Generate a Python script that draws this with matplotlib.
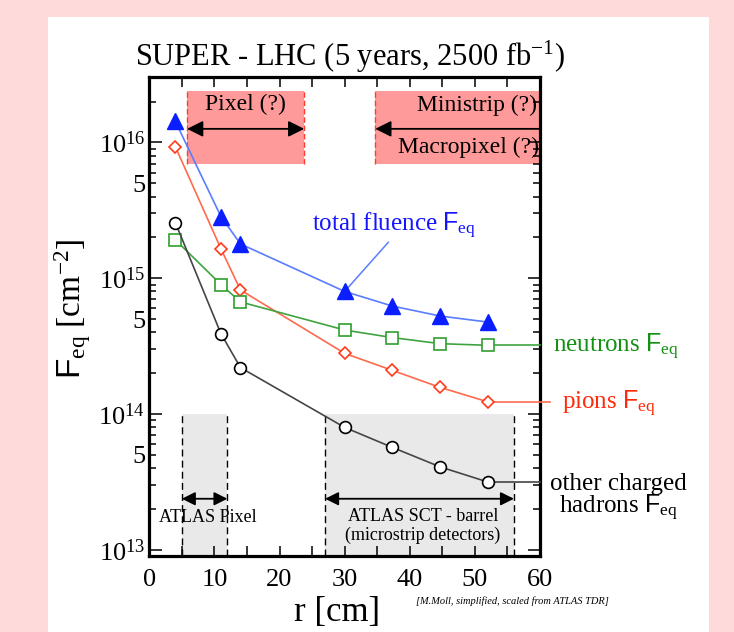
import numpy as np
import matplotlib
matplotlib.use('Agg')
import matplotlib.pyplot as plt
from matplotlib.patches import Rectangle
from matplotlib.ticker import FixedLocator, FuncFormatter, MultipleLocator

plt.rcParams['font.family'] = ['Liberation Serif', 'DejaVu Serif']
plt.rcParams['mathtext.fontset'] = 'custom'
plt.rcParams['mathtext.rm'] = 'Liberation Serif'
plt.rcParams['mathtext.sf'] = 'Liberation Sans'
plt.rcParams['mathtext.it'] = 'Liberation Serif:italic'

# radius of the layers [cm]
r = [4, 11, 14, 30, 37.3, 44.7, 52]
total = [1.43e16, 2.85e15, 1.79e15, 8.0e14, 6.25e14, 5.27e14, 4.76e14]
pions = [9.3e15, 1.65e15, 8.2e14, 2.8e14, 2.1e14, 1.57e14, 1.23e14]
neutrons = [1.92e15, 9.0e14, 6.7e14, 4.16e14, 3.66e14, 3.30e14, 3.21e14]
others = [2.57e15, 3.91e14, 2.2e14, 7.98e13, 5.69e13, 4.08e13, 3.16e13]

# detector regions
pink_pixel = (5.8, 23.8)
pink_strip = (34.7, 60)
pink_y = (6.97e15, 2.38e16)
gray_pixel = (5, 12)
gray_sct = (27, 56)
gray_top = 1e14

FEQ = r'$\mathsf{F}_{\mathrm{eq}}$'

fig = plt.figure(figsize=(7.34, 6.32), dpi=100)
fig.patch.set_facecolor('#ffdada')
fig.patches.append(Rectangle((48 / 734, 0), (709 - 48) / 734, 1 - 17 / 632,
                             transform=fig.transFigure, facecolor='white',
                             edgecolor='none', zorder=-5))
ax = fig.add_axes([149.3 / 734, 1 - 556 / 632, 390.7 / 734, 478.7 / 632])
ax.set_zorder(2)
ax.set_facecolor('white')
ax.set_yscale('log')
ax.set_xlim(0, 60)
ax.set_ylim(10 ** 12.955, 10 ** 16.48)
ylo = ax.get_ylim()[0]

# pink (future detectors) boxes
for x0, x1 in [pink_pixel, pink_strip]:
    ax.add_patch(Rectangle((x0, pink_y[0]), x1 - x0, pink_y[1] - pink_y[0],
                           facecolor='#ff9a9a', edgecolor='none', zorder=1))
    for xe in (x0, x1):
        if xe < 60:
            ax.plot([xe, xe], pink_y, color='#ff3b2e', lw=1, ls=(0, (4, 2)), zorder=2)
ax.annotate('', xy=(pink_pixel[0], 1.26e16), xytext=(pink_pixel[1], 1.26e16),
            arrowprops=dict(arrowstyle='<|-|>', color='black', lw=1.3,
                            mutation_scale=24, shrinkA=0, shrinkB=0), zorder=3)
ax.annotate('', xy=(pink_strip[0], 1.26e16), xytext=(60, 1.26e16),
            arrowprops=dict(arrowstyle='-|>', color='black', lw=1.3,
                            mutation_scale=24, shrinkA=0, shrinkB=0), zorder=3)
ax.text(sum(pink_pixel) / 2, 1.89e16, 'Pixel (?)', ha='center', va='center', fontsize=17)
ax.text(59.6, 1.89e16, 'Ministrip (?)', ha='right', va='center', fontsize=17)
ax.text(59.9, 9.2e15, 'Macropixel (?)', ha='right', va='center', fontsize=17)

# gray (present ATLAS) boxes
for x0, x1 in [gray_pixel, gray_sct]:
    ax.add_patch(Rectangle((x0, ylo), x1 - x0, gray_top - ylo,
                           facecolor='#e9e9e9', edgecolor='none', zorder=1))
    for xe in (x0, x1):
        ax.plot([xe, xe], [ylo, gray_top], color='black', lw=1, ls=(0, (5, 3)), zorder=2)
    ax.annotate('', xy=(x0, 2.38e13), xytext=(x1, 2.38e13),
                arrowprops=dict(arrowstyle='<|-|>', color='black', lw=1.3,
                                mutation_scale=20, shrinkA=0, shrinkB=0), zorder=3)
ax.text(9.0, 1.73e13, 'ATLAS Pixel', ha='center', va='center', fontsize=13)
ax.text(42.0, 1.77e13, 'ATLAS SCT - barrel', ha='center', va='center', fontsize=13)
ax.text(42.0, 1.29e13, '(microstrip detectors)', ha='center', va='center', fontsize=13)

# leader lines to the labels on the right
ax.plot([r[-1], 60], [neutrons[-1]] * 2, color='#3fa33f', lw=1.2, zorder=4, clip_on=False)
ax.plot([r[-1], 61.5], [pions[-1]] * 2, color='#ff6a4d', lw=1.2, zorder=4, clip_on=False)
ax.plot([r[-1], 60], [others[-1]] * 2, color='#454545', lw=1.2, zorder=4, clip_on=False)

# data
ax.plot(r, total, color='#5a7dff', lw=1.2, marker='^', ms=11, mfc='#0a1eff',
        mec='#0a1eff', zorder=5)
ax.plot(r, pions, color='#ff6a4d', lw=1.2, marker='D', ms=6.5, mfc='white',
        mec='#ff3a1a', mew=1.2, zorder=5)
ax.plot(r, neutrons, color='#3fa33f', lw=1.2, marker='s', ms=8.5, mfc='white',
        mec='#2f9f2f', mew=1.2, zorder=5)
ax.plot(r, others, color='#454545', lw=1.2, marker='o', ms=8.5, mfc='white',
        mec='black', mew=1.2, zorder=5)

# total fluence label with pointer
ax.plot([36.7, r[3]], [1.84e15, total[3]], color='#5a7dff', lw=1.1, zorder=4)
ax.text(25.0, 2.21e15, 'total fluence ' + FEQ, color='#1414ff', fontsize=18,
        ha='left', va='baseline')

ax.text(62.0, 2.83e14, 'neutrons ' + FEQ, color='#139113', fontsize=18,
        ha='left', va='baseline')
ax.text(63.4, 1.08e14, 'pions ' + FEQ, color='#ff2a0a', fontsize=18,
        ha='left', va='baseline')
ax.text(72.1, 2.78e13, 'other charged', color='black', fontsize=18,
        ha='center', va='baseline')
ax.text(72.1, 1.87e13, 'hadrons ' + FEQ, color='black', fontsize=18,
        ha='center', va='baseline')

# axes style
for s in ax.spines.values():
    s.set_linewidth(2.3)
ax.xaxis.set_major_locator(MultipleLocator(10))
ax.xaxis.set_minor_locator(MultipleLocator(5))
ax.yaxis.set_major_locator(FixedLocator([1e13, 1e14, 1e15, 1e16]))
minors = [m * 10.0 ** e for e in (12, 13, 14, 15, 16) for m in range(2, 10)]
ax.yaxis.set_minor_locator(FixedLocator(minors))
ax.yaxis.set_major_formatter(FuncFormatter(
    lambda v, p: r'$\mathrm{10^{%d}}$' % round(np.log10(v))))
ax.yaxis.set_minor_formatter(FuncFormatter(
    lambda v, p: '5' if abs(v / 10 ** np.floor(np.log10(v) + 1e-9) - 5) < 0.01 else ''))
ax.tick_params(which='both', direction='in', top=True, right=True, width=1.1)
ax.tick_params(axis='x', which='major', length=7, labelsize=19, pad=9)
ax.tick_params(axis='x', which='minor', length=7)
ax.tick_params(axis='y', which='major', length=9, labelsize=19, pad=3)
ax.tick_params(axis='y', which='minor', length=5, labelsize=19, pad=3)

fig.text(350 / 734, 1 - 57 / 632, r'SUPER - LHC (5 years, 2500 fb$^{\mathrm{-1}}$)',
         ha='center', va='center', fontsize=22)
fig.text(73 / 734, 1 - 309 / 632, FEQ + r' [cm$^{\mathrm{-2}}$]', rotation=90,
         ha='center', va='center', fontsize=24)
fig.text(337 / 734, 1 - 612 / 632, 'r [cm]', ha='center', va='center', fontsize=25)
fig.text(512 / 734, 1 - 601 / 632, '[M.Moll, simplified, scaled from ATLAS TDR]',
         ha='center', va='center', fontsize=7.5, style='italic')

fig.savefig('out.png', dpi=100, facecolor=fig.get_facecolor())
